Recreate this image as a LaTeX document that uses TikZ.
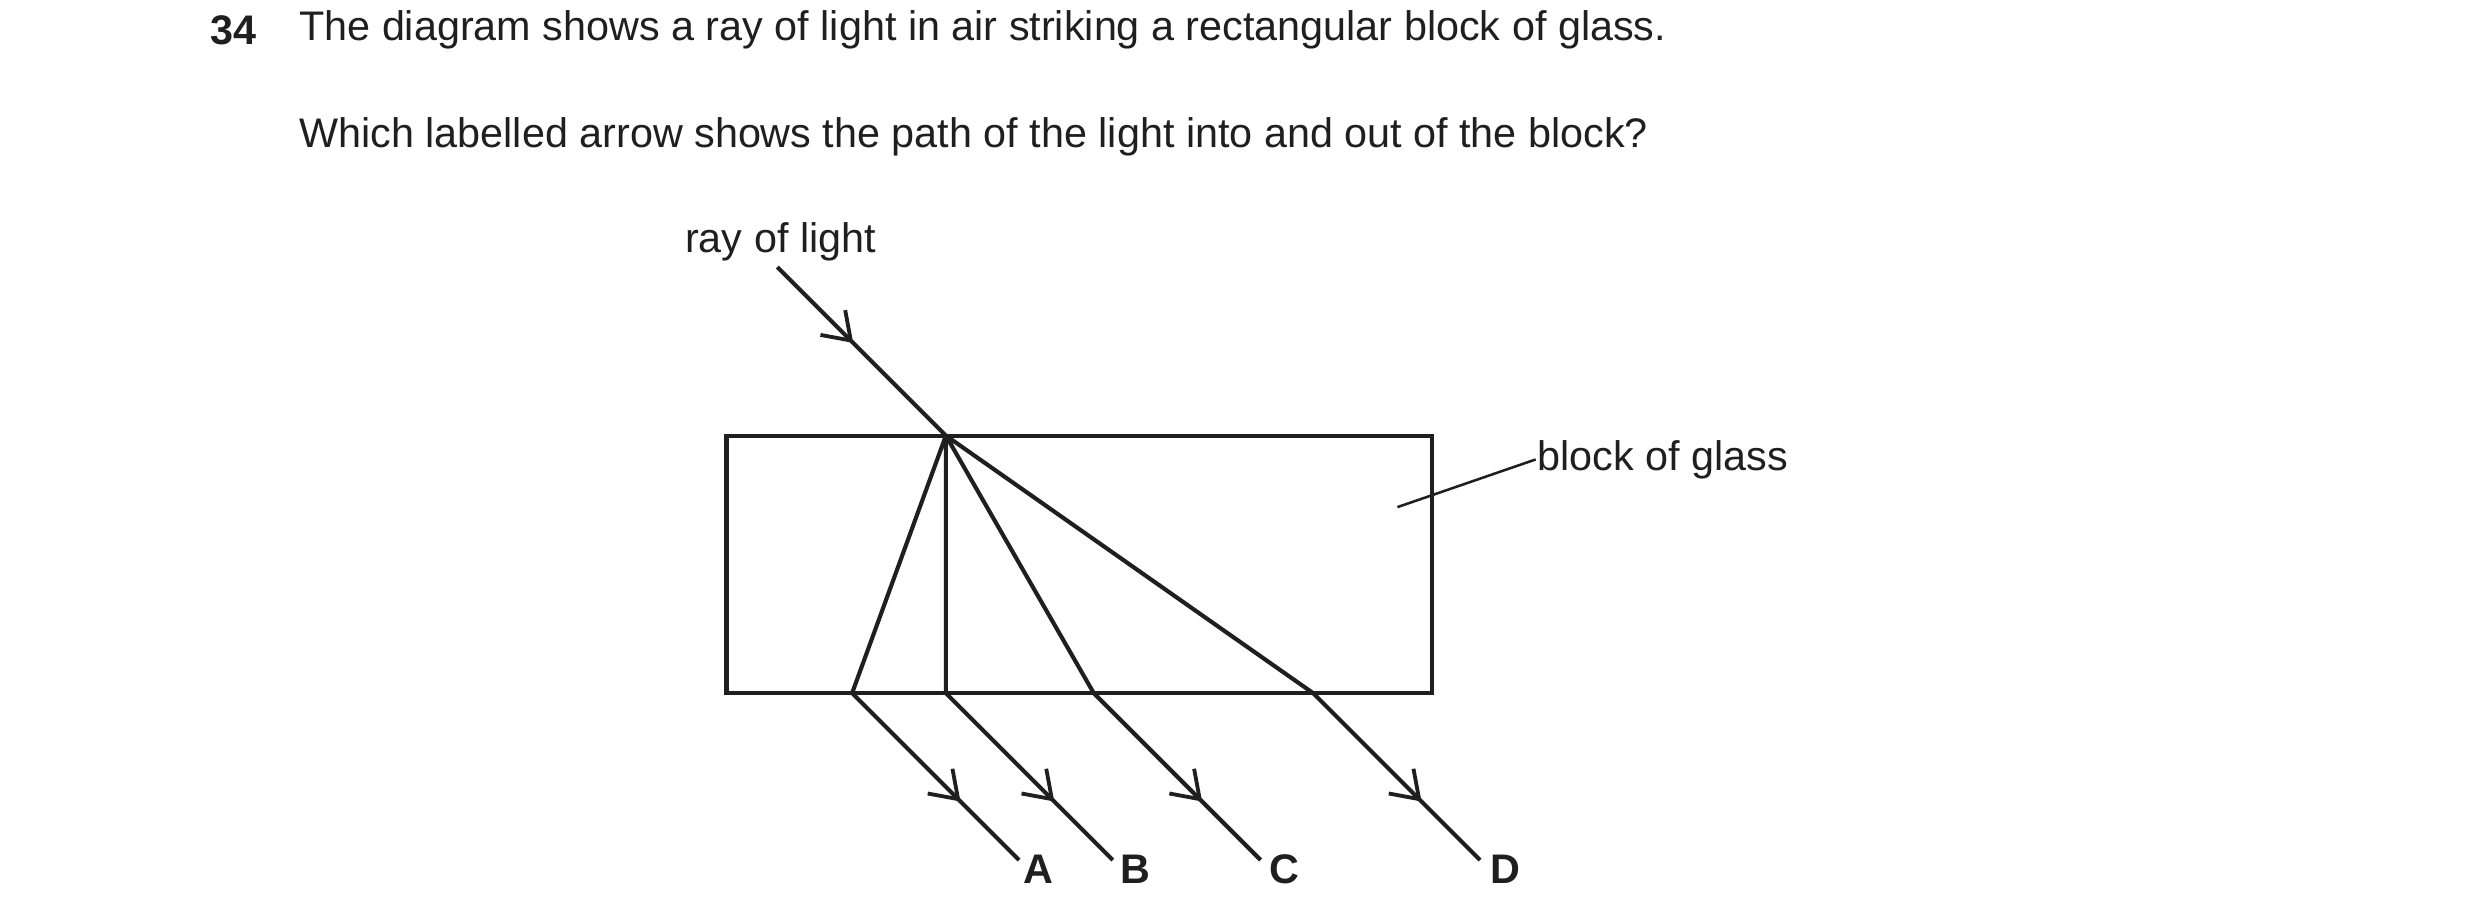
\documentclass[tikz,border=0pt]{standalone}
\usepackage{fontspec}
\setmainfont{Liberation Sans}
\usetikzlibrary{arrows.meta,decorations.markings}

\tikzset{every picture/.style={line width=1.3pt},
  ray/.style={draw=black!88,decoration={markings,mark=at position #1 with {\arrow{Straight Barb[length=8pt,width=11pt,line width=1.2pt]}}},postaction={decorate}},
  ray/.default=0.6,
  txt/.style={inner sep=0pt,font=\fontsize{13}{15}\selectfont,text=black!88}}

\begin{document}
\begin{tikzpicture}[x=0.5pt,y=0.5pt,yscale=-1,xscale=1]
        \useasboundingbox (0,0) rectangle (1560,579);

        %Shape: Rectangle [block]
        \draw [black!88] (457,274) rectangle (901,436) ;
        \coordinate (start) at (489,168);
        \coordinate (hit) at (595,274);
        \coordinate (botA) at (536,436);
        \coordinate (botB) at (595,436);
        \coordinate (botC) at (688,436);
        \coordinate (botD) at (826,436);
        \coordinate (endA) at (641,541);
        \coordinate (endB) at (700,541);
        \coordinate (endC) at (793,541);
        \coordinate (endD) at (931,541);

        %Straight Lines [incident ray]
        \draw [ray=0.45] (start) -- (hit) ;
        %Straight Lines [paths in the block]
        \draw [black!88] (hit) -- (botA) (hit) -- (botB) (hit) -- (botC) (hit) -- (botD) ;
        %Straight Lines [emerging rays]
        \draw [ray=0.65] (botA) -- (endA) ;
        \draw [ray=0.65] (botB) -- (endB) ;
        \draw [ray=0.65] (botC) -- (endC) ;
        \draw [ray=0.65] (botD) -- (endD) ;

        % Text Node
        \node [txt,font=\fontsize{13}{15}\selectfont\bfseries,anchor=west] (num) at (131,19) {34};
        % Text Node
        \node [txt,anchor=west] (line1) at (187,19) {The diagram shows a ray of light in air striking a rectangular block of glass.};
        % Text Node
        \node [txt,anchor=west] (line2) at (187,86) {Which labelled arrow shows the path of the light into and out of the block?};
        % Text Node
        \node [txt] (raylbl) at (491,152) {ray of light};
        % Text Node
        \node [txt,anchor=west] (glass) at (966,289) {block of glass};
        \coordinate (lead) at (879,319);
        \draw [line width=0.8pt,black!88] (lead) -- (glass.west) ;
        % Text Node
        \node [txt,font=\fontsize{13}{15}\selectfont\bfseries] (lblA) at (653,547) {A};
        \node [txt,font=\fontsize{13}{15}\selectfont\bfseries] (lblB) at (714,547) {B};
        \node [txt,font=\fontsize{13}{15}\selectfont\bfseries] (lblC) at (808,547) {C};
        \node [txt,font=\fontsize{13}{15}\selectfont\bfseries] (lblD) at (947,547) {D};
\end{tikzpicture}
\end{document}
